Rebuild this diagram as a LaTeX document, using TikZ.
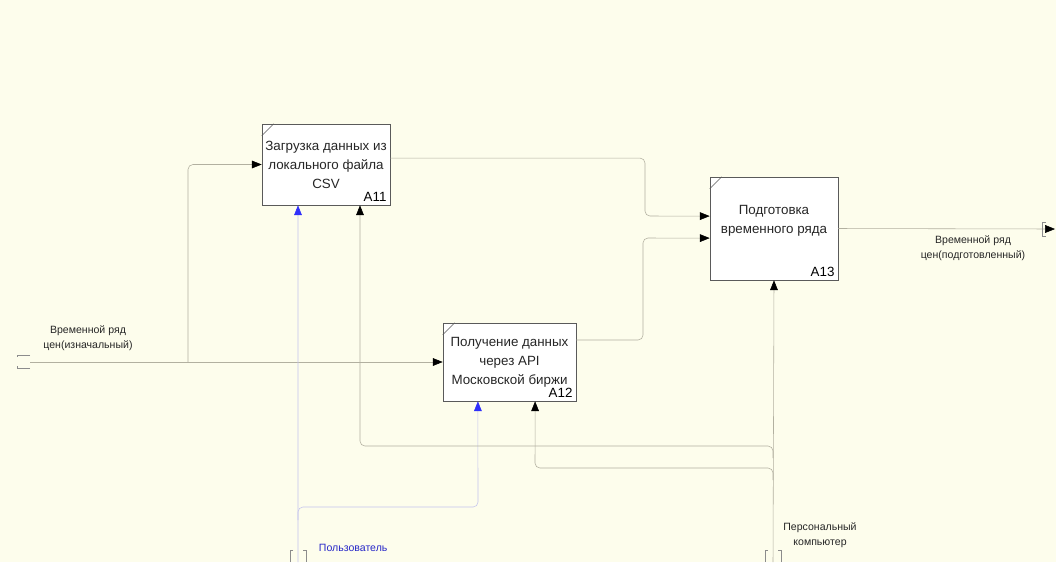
\documentclass[tikz,border=0pt]{standalone}
\usepackage{fontspec}
\setmainfont{Liberation Sans}
\usetikzlibrary{arrows.meta}
\definecolor{paper}{RGB}{253,253,236}
\definecolor{wire}{RGB}{178,176,160}
\definecolor{bluewire}{RGB}{196,196,236}
\definecolor{bluetip}{RGB}{48,48,250}
\definecolor{boxline}{RGB}{90,90,90}
\begin{document}
\begin{tikzpicture}[x=0.025cm, y=-0.025cm,
    func/.style={draw=boxline, fill=white, align=center, inner sep=0pt,
        font=\fontsize{9.5}{13.5}\selectfont, text=black!85},
    num/.style={anchor=south east, inner sep=2.5pt, font=\fontsize{9.5}{11}\selectfont},
    flow/.style={draw=wire, thin, rounded corners=3.5pt,
        -{Triangle[length=7pt,width=5.5pt,color=black,fill=black]}},
    blueflow/.style={draw=bluewire, thin, rounded corners=3.5pt,
        -{Triangle[length=7pt,width=5.5pt,color=bluetip,fill=bluetip]}},
    tag/.style={align=center, font=\fontsize{7.5}{10.6}\selectfont, text=black!85},
    tunnel/.style={draw=black!45, thin}]
    % --- 0. Sheet ---
    \fill[paper] (0,0) rectangle (1056,562);
    \useasboundingbox (0,0) rectangle (1056,562);

    % --- 1. Function boxes ---
    \node[func, minimum width=3.2cm, minimum height=2.025cm,
        label={[num]south east:A11}] (a11) at (326,164.5)
        {Загрузка данных из\\локального файла\\CSV};
    \node[func, minimum width=3.325cm, minimum height=1.95cm,
        label={[num]south east:A12}] (a12) at (509.5,362)
        {Получение данных\\через API\\Московской биржи};
    \node[func, minimum width=3.2cm, minimum height=2.575cm,
        label={[num]south east:A13}] (a13) at (774,228.5)
        {Подготовка\\временного ряда\\[0pt]};
    % corner ticks
    \foreach \b in {a11, a12, a13} {
        \draw[boxline, thin] (\b.north west) ++(0,12) -- ++(12,-12);
    }

    % --- 2. Free ends ---
    \coordinate (inp) at (30,362);
    \coordinate (fork) at (188,362);
    \coordinate (outp) at (1055,229);
    \coordinate (user) at (298,562);
    \coordinate (ufork) at (298,520);
    \coordinate (pc) at (773,562);
    \coordinate (pcforka) at (773,458);
    \coordinate (pcforkb) at (773,480);

    % --- 3. Inputs and outputs ---
    \draw[flow] (inp) -- (a12.west);
    \draw[flow] (fork) |- (a11.west);
    \draw[flow] ([yshift=0.16cm]a11.east) -| (645,216) -- ([yshift=0.31cm]a13.west);
    \draw[flow] ([yshift=0.55cm]a12.east) -| (643,238) -- ([yshift=-0.24cm]a13.west);
    \draw[flow] (a13.east) -- (outp);

    % --- 4. Mechanisms ---
    \draw[blueflow] (user) -- ([xshift=-0.7cm]a11.south);
    \draw[blueflow] (ufork) |- (478,507) -- ([xshift=-0.79cm]a12.south);
    \draw[flow] (pc) -- (a13.south);
    \draw[flow] (pcforka) |- (360,446) -- ([xshift=0.85cm]a11.south);
    \draw[flow] (pcforkb) |- (535,468) -- ([xshift=0.64cm]a12.south);

    % --- 5. Tunnel brackets ---
    \draw[tunnel] (30,355) -- (17,355) -- (17,357);
    \draw[tunnel] (30,368) -- (17,368) -- (17,366);
    \draw[tunnel] (1046,222) -- (1042,222) -- (1042,236) -- (1046,236);
    \foreach \x in {298, 773} {
        \draw[tunnel] (\x-5,550) -- (\x-8,550) -- (\x-8,562);
        \draw[tunnel] (\x+5,550) -- (\x+8,550) -- (\x+8,562);
    }

    % --- 6. Labels ---
    \node[tag] (inlbl) at (88,338) {Временной ряд\\цен(изначальный)};
    \node[tag] (outlbl) at (973,248) {Временной ряд\\цен(подготовленный)};
    \node[tag, anchor=west, text=bluetip!80!black] (userlbl) at (314,548) {Пользователь};
    \node[tag] (pclbl) at (820,535) {Персональный\\компьютер};
\end{tikzpicture}
\end{document}
